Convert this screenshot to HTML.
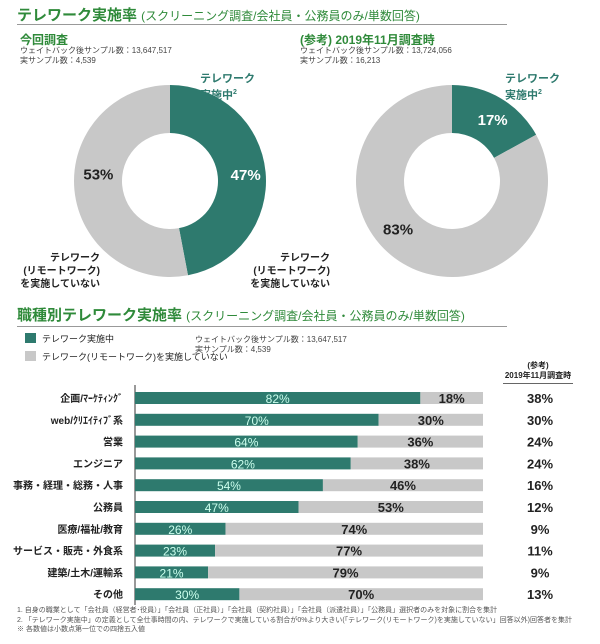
<!DOCTYPE html>
<html><head><meta charset="utf-8">
<style>
body{margin:0;width:600px;height:644px;background:#fff;font-family:"Liberation Sans","Noto Sans CJK JP",sans-serif;overflow:hidden;position:relative;color:#222}
.abs{position:absolute;white-space:nowrap}
.h1{font-size:15px;font-weight:bold;color:#2f8a3a}
.h1 span{font-size:12px;font-weight:normal}
.sub{font-size:12px;font-weight:bold;color:#2f8a3a}
.small{font-size:8px;color:#444;line-height:10px}
.lbl{font-size:10px;font-weight:bold;color:#222;line-height:13px}
</style></head><body>
<div class="abs h1" style="left:17px;top:4px">テレワーク実施率 <span>(スクリーニング調査/会社員・公務員のみ/単数回答)</span></div>
<div class="abs" style="left:17px;top:24px;width:490px;border-top:1px solid #999"></div>
<div class="abs sub" style="left:20px;top:31px">今回調査</div>
<div class="abs small" style="left:20px;top:46px">ウェイトバック後サンプル数：13,647,517<br>実サンプル数：4,539</div>
<div class="abs sub" style="left:300px;top:31px">(参考) 2019年11月調査時</div>
<div class="abs small" style="left:300px;top:46px">ウェイトバック後サンプル数：13,724,056<br>実サンプル数：16,213</div>

<svg class="abs" style="left:0;top:0" width="600" height="300" id="donuts"></svg>

<div class="abs lbl" style="left:200px;top:72px;color:#2e7a6e;font-size:11px;line-height:14px">テレワーク<br>実施中<sup style="font-size:7px">2</sup></div>
<div class="abs lbl" style="left:10px;width:90px;top:252px;text-align:right">テレワーク<br>(リモートワーク)<br>を実施していない</div>
<div class="abs lbl" style="left:505px;top:72px;color:#2e7a6e;font-size:11px;line-height:14px">テレワーク<br>実施中<sup style="font-size:7px">2</sup></div>
<div class="abs lbl" style="left:240px;width:90px;top:252px;text-align:right">テレワーク<br>(リモートワーク)<br>を実施していない</div>

<div class="abs h1" style="left:17px;top:304px">職種別テレワーク実施率 <span>(スクリーニング調査/会社員・公務員のみ/単数回答)</span></div>
<div class="abs" style="left:17px;top:326px;width:490px;border-top:1px solid #999"></div>
<div class="abs" style="left:25px;top:333px;width:11px;height:10px;background:#2e7a6e"></div>
<div class="abs" style="left:42px;top:332px;font-size:9px">テレワーク実施中</div>
<div class="abs" style="left:25px;top:351px;width:11px;height:10px;background:#c8c8c8"></div>
<div class="abs" style="left:42px;top:350px;font-size:9px">テレワーク(リモートワーク)を実施していない</div>
<div class="abs small" style="left:195px;top:335px">ウェイトバック後サンプル数：13,647,517<br>実サンプル数：4,539</div>
<div class="abs" style="left:500px;top:361px;font-size:8px;font-weight:bold;text-align:center;width:76px;line-height:10px">(参考)<br>2019年11月調査時</div>
<div class="abs" style="left:503px;top:383px;width:70px;border-top:1px solid #666"></div>

<svg class="abs" style="left:0;top:385px" width="600" height="220" id="bars"></svg>

<div class="abs" style="left:17px;top:606px;font-size:7px;color:#555;line-height:9.5px">1. 自身の職業として「会社員（経営者･役員）」「会社員（正社員）」「会社員（契約社員）」「会社員（派遣社員）」「公務員」選択者のみを対象に割合を集計<br>2. 「テレワーク実施中」の定義として全仕事時間の内、テレワークで実施している割合が0%より大きい(「テレワーク(リモートワーク)を実施していない」回答以外)回答者を集計<br>※ 各数値は小数点第一位での四捨五入値</div>

<script>
const donutLabels=["今回調査","2019年11月"];
const donutTele=[47,17];
const donutNot=[53,83];
const categories=["企画/ﾏｰｹﾃｨﾝｸﾞ","web/ｸﾘｴｲﾃｨﾌﾞ系","営業","エンジニア","事務・経理・総務・人事","公務員","医療/福祉/教育","サービス・販売・外食系","建築/土木/運輸系","その他"];
const teleValues=[82,70,64,62,54,47,26,23,21,30];
const notValues=[18,30,36,38,46,53,74,77,79,70];
const refValues=[38,30,24,24,16,12,9,11,9,13];

const NS="http://www.w3.org/2000/svg";
function mk(p,t,a){const e=document.createElementNS(NS,t);for(const k in a)e.setAttribute(k,a[k]);p.appendChild(e);return e;}
const TEAL="#2e7a6e",GRAY="#c8c8c8";
const ds=document.getElementById('donuts');
const centers=[[170,181],[452,181]];
const R=96,r=48;
function pt(cx,cy,rad,f){const a=f*2*Math.PI-Math.PI/2;return [cx+rad*Math.cos(a),cy+rad*Math.sin(a)];}
function arc(cx,cy,f0,f1){const big=(f1-f0)>0.5?1:0;const a=pt(cx,cy,R,f0),b=pt(cx,cy,R,f1),c=pt(cx,cy,r,f1),d=pt(cx,cy,r,f0);
return `M${a[0]},${a[1]}A${R},${R} 0 ${big} 1 ${b[0]},${b[1]}L${c[0]},${c[1]}A${r},${r} 0 ${big} 0 ${d[0]},${d[1]}Z`;}
donutLabels.forEach((l,i)=>{const [cx,cy]=centers[i];const t=donutTele[i]/100;
const s1=mk(ds,'path',{d:arc(cx,cy,0,t),fill:TEAL});


const s2=mk(ds,'path',{d:arc(cx,cy,t,0.99999),fill:GRAY});


const p1=pt(cx,cy,(R+r)/2,t/2),p2=pt(cx,cy,(R+r)/2,t+(1-t)*0.56);
const t1=mk(ds,'text',{x:p1[0]+4,y:p1[1]+6,'text-anchor':'middle','font-size':15,'font-weight':'bold',fill:'#fff'});t1.textContent=donutTele[i]+'%';


const t2=mk(ds,'text',{x:p2[0],y:p2[1]+6,'text-anchor':'middle','font-size':15,'font-weight':'bold',fill:'#222'});t2.textContent=donutNot[i]+'%';


});
const bs=document.getElementById('bars');
const X0=135,W=348,Y0=13,STEP=21.8,BH=12;
const xs=v=>X0+v/100*W;
const ax=mk(bs,'line',{x1:X0,x2:X0,y1:0,y2:220,stroke:'#333','stroke-width':1});


categories.forEach((c,i)=>{const y=Y0+i*STEP;
const b1=mk(bs,'rect',{x:X0,y:y-BH/2,width:xs(teleValues[i])-X0,height:BH,fill:TEAL});


const b2=mk(bs,'rect',{x:xs(teleValues[i]),y:y-BH/2,width:xs(teleValues[i]+notValues[i])-xs(teleValues[i]),height:BH,fill:GRAY});


const lb=mk(bs,'text',{x:X0-12,y:y+4,'text-anchor':'end','font-size':10,'font-weight':'bold',fill:'#222'});lb.textContent=c;


const v1=mk(bs,'text',{x:(X0+xs(teleValues[i]))/2,y:y+5,'text-anchor':'middle','font-size':12,fill:'#cfe'});v1.textContent=teleValues[i]+'%';


const v2=mk(bs,'text',{x:(xs(teleValues[i])+xs(teleValues[i]+notValues[i]))/2,y:y+5,'text-anchor':'middle','font-size':13,'font-weight':'bold',fill:'#222'});v2.textContent=notValues[i]+'%';


const v3=mk(bs,'text',{x:540,y:y+5,'text-anchor':'middle','font-size':13,'font-weight':'bold',fill:'#222'});v3.textContent=refValues[i]+'%';


});
</script>
</body></html>
